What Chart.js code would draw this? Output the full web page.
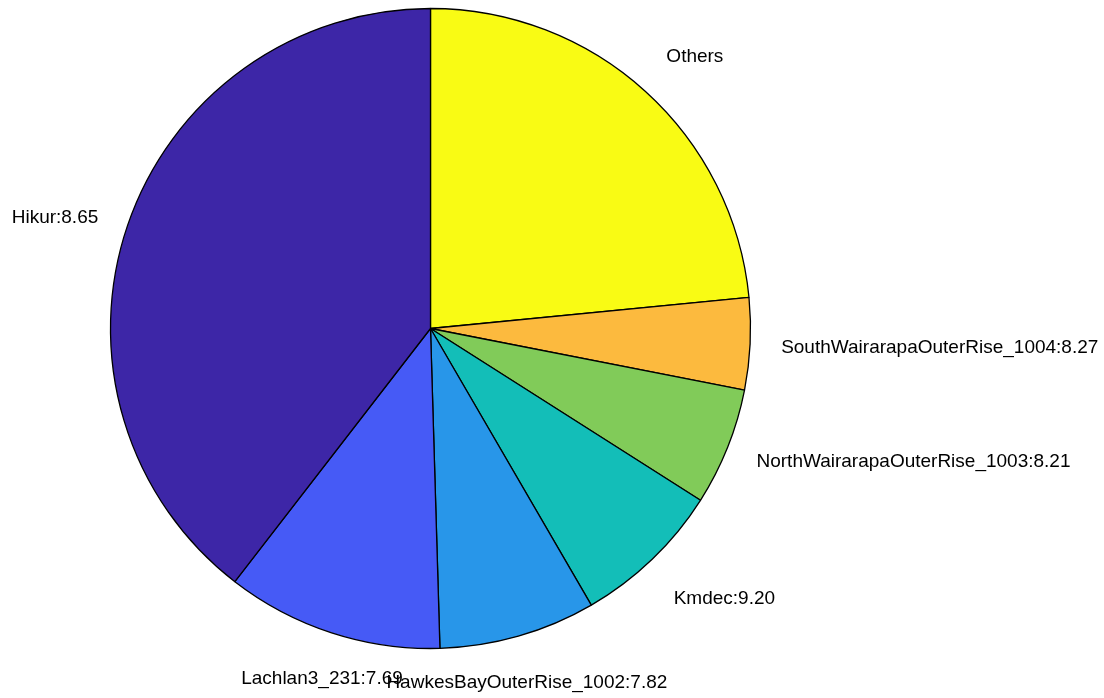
<!DOCTYPE html>
<html>
<head>
<meta charset="utf-8">
<script src="https://cdn.jsdelivr.net/npm/chart.js@4"></script>
<style>
  html, body { margin: 0; padding: 0; background: #ffffff; }
  #wrap { width: 1104px; height: 698px; position: relative; }
</style>
</head>
<body>
<div id="wrap"><canvas id="c" width="1104" height="698"></canvas></div>
<script>
// Slices listed clockwise from 12 o'clock (as drawn)
const categories = ["Others", "SouthWairarapaOuterRise_1004", "NorthWairarapaOuterRise_1003", "Kmdec", "HawkesBayOuterRise_1002", "Lachlan3_231", "Hikur"];
const magnitudes = [null, "8.27", "8.21", "9.20", "7.82", "7.69", "8.65"];
const shares = [23.45, 4.63, 5.94, 7.60, 7.91, 10.94, 39.53];
const colors = ["#F9FB14", "#FCBA3E", "#81CB59", "#13BEB8", "#2896E9", "#465AF6", "#3D26A7"];

const labelTexts = categories.map((c, i) => magnitudes[i] ? c + ":" + magnitudes[i] : c);

const pieLabels = {
  id: 'pieLabels',
  afterDraw(chart) {
    const ctx = chart.ctx;
    const meta = chart.getDatasetMeta(0);
    ctx.save();
    ctx.font = '19px "Liberation Sans", Arial, sans-serif';
    ctx.fillStyle = '#000000';
    ctx.textBaseline = 'alphabetic';
    meta.data.forEach((arc, i) => {
      const mid = (arc.startAngle + arc.endAngle) / 2;
      const r = arc.outerRadius * 1.097;
      const cx = Math.cos(mid), sy = Math.sin(mid);
      const ax = arc.x + r * cx;
      const ay = arc.y + r * sy;
      let align = 'center';
      if (cx > 0.5) align = 'left';
      else if (cx < -0.5) align = 'right';
      let by;
      if (sy < -0.5) by = ay - 6;
      else if (sy > 0.5) by = ay + 22;
      else by = ay + 8;
      ctx.textAlign = align;
      ctx.fillText(labelTexts[i], ax, by);
    });
    ctx.restore();
  }
};

new Chart(document.getElementById('c'), {
  type: 'pie',
  data: {
    labels: labelTexts,
    datasets: [{
      data: shares,
      backgroundColor: colors,
      borderColor: '#000000',
      borderWidth: 1.3,
      radius: 320
    }]
  },
  options: {
    responsive: false,
    animation: false,
    layout: { padding: { left: 0, right: 243, top: 8, bottom: 49 } },
    plugins: {
      legend: { display: false },
      tooltip: { enabled: false }
    }
  },
  plugins: [pieLabels]
});
</script>
</body>
</html>
